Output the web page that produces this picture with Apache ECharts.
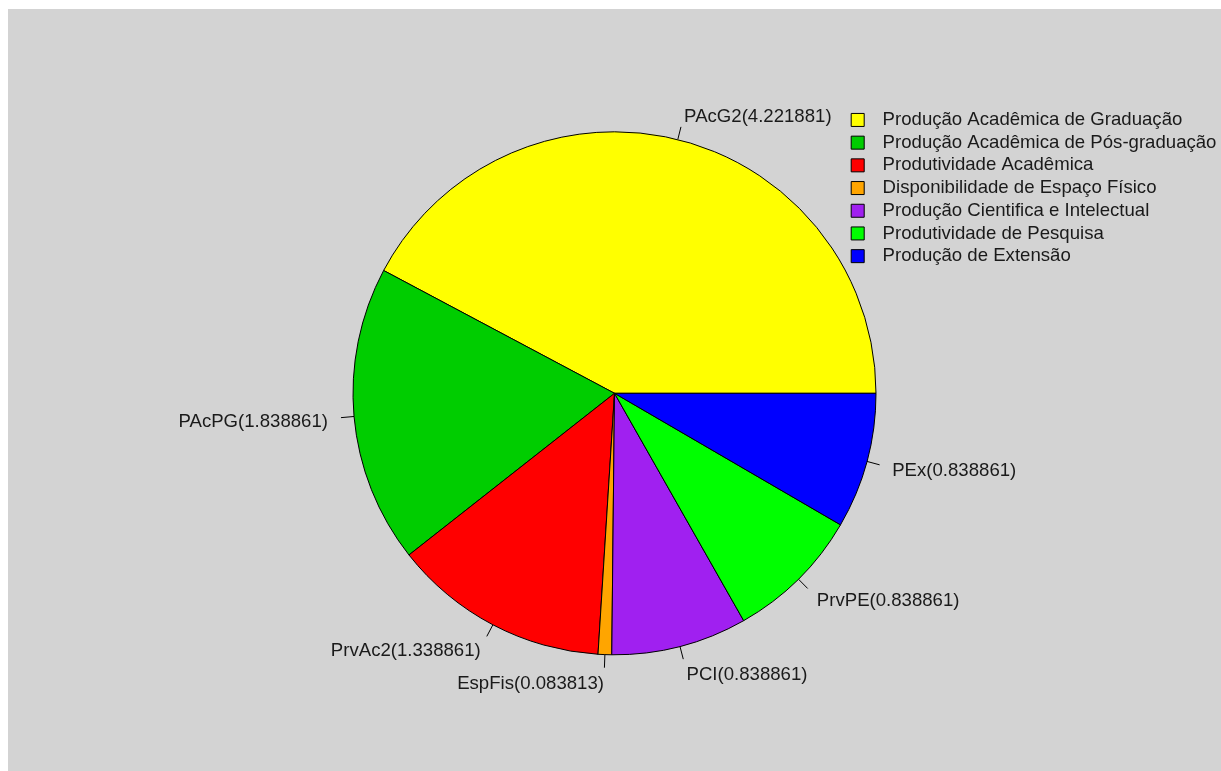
<!DOCTYPE html>
<html>
<head>
<meta charset="utf-8">
<script src="https://cdn.jsdelivr.net/npm/echarts@6/dist/echarts.min.js"></script>
<style>
html, body { margin: 0; padding: 0; background: #ffffff; width: 1221px; height: 771px; overflow: hidden; }
#chart { position: absolute; left: 8px; top: 9px; width: 1213px; height: 762px; background: #d3d3d3; }
</style>
</head>
<body>
<div id="chart"></div>
<script>
const categories = [
  'Produção Acadêmica de Graduação',
  'Produção Acadêmica de Pós-graduação',
  'Produtividade Acadêmica',
  'Disponibilidade de Espaço Físico',
  'Produção Cientifica e Intelectual',
  'Produtividade de Pesquisa',
  'Produção de Extensão'
];
const abbreviations = ['PAcG2', 'PAcPG', 'PrvAc2', 'EspFis', 'PCI', 'PrvPE', 'PEx'];
const values = [4.221881, 1.838861, 1.338861, 0.083813, 0.838861, 0.838861, 0.838861];
const colors = ['#ffff00', '#00cd00', '#ff0000', '#ffa500', '#a020f0', '#00ff00', '#0000ff'];

const FONT = "'Liberation Sans', Arial, sans-serif";
const R = 261.5;
const CENTER = [606.5, 384.3];

const chart = echarts.init(document.getElementById('chart'), null, { renderer: 'canvas' });

const fillData = categories.map((n, i) => ({
  name: n, value: values[i], itemStyle: { color: colors[i] }
}));
const labelData = categories.map((n, i) => ({ name: n, value: values[i] }));

chart.setOption({
  animation: false,
  backgroundColor: '#d3d3d3',
  legend: {
    orient: 'vertical',
    left: 842.7,
    top: 99.6,
    padding: 0,
    itemGap: 0,
    itemWidth: 13,
    itemHeight: 13,
    icon: 'rect',
    selectedMode: false,
    data: categories,
    itemStyle: { borderColor: '#000', borderWidth: 1 },
    textStyle: {
      fontFamily: FONT, fontSize: 18.6, color: '#1a1a1a',
      lineHeight: 14.7, padding: [8, 0, 0, 13.4]
    }
  },
  series: [
    {
      type: 'pie',
      silent: true,
      center: CENTER,
      radius: R,
      startAngle: 0,
      clockwise: false,
      avoidLabelOverlap: false,
      minAngle: 0,
      labelLayout: { hideOverlap: false },
      itemStyle: { borderColor: '#000', borderWidth: 1 },
      label: { show: true, position: 'outside', distanceToLabelLine: 0, color: 'rgba(0,0,0,0)', fontSize: 1, formatter: ' ' },
      labelLine: { show: true, length: 13.1, length2: 0, smooth: false, lineStyle: { color: '#000', width: 1 } },
      emphasis: { disabled: true },
      data: fillData
    },
    {
      type: 'pie',
      silent: true,
      center: CENTER,
      radius: R,
      startAngle: 0,
      clockwise: false,
      avoidLabelOverlap: false,
      minAngle: 0,
      labelLayout: { hideOverlap: false },
      itemStyle: { color: 'rgba(0,0,0,0)', borderWidth: 0 },
      label: {
        show: true,
        position: 'outside',
        distanceToLabelLine: 0,
        fontFamily: FONT,
        fontSize: 18.6,
        color: '#1a1a1a',
        offset: [0, 3],
        formatter: p => abbreviations[p.dataIndex] + '(' + values[p.dataIndex] + ')'
      },
      labelLine: { show: false, length: 26.15, length2: 0 },
      emphasis: { disabled: true },
      data: labelData
    }
  ]
});
</script>
</body>
</html>
